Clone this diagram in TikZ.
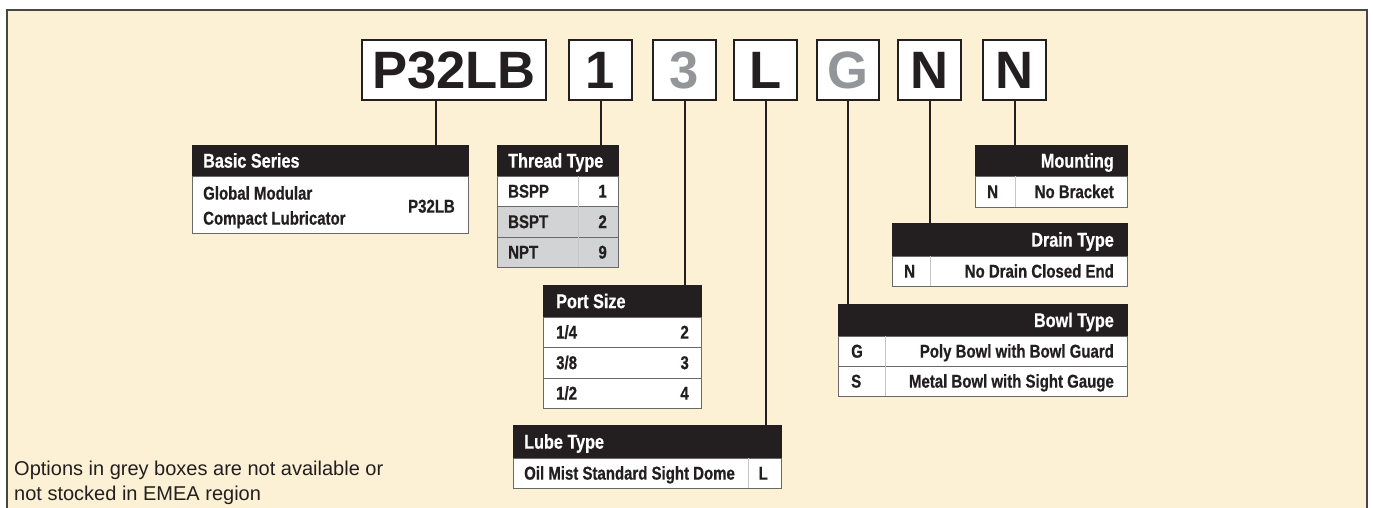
\documentclass[tikz,border=0pt]{standalone}
\usepackage{fontspec}
\setmainfont{Liberation Sans}
\newfontfamily\condfont[FakeStretch=0.81,FakeBold=0.6]{Liberation Sans}
\definecolor{bg}{RGB}{253,241,213}
\definecolor{ink}{RGB}{35,31,32}
\definecolor{greytxt}{RGB}{147,149,152}
\definecolor{greyfill}{RGB}{209,211,212}
\definecolor{rulecol}{RGB}{105,105,108}
\definecolor{framecol}{RGB}{70,70,70}
\begin{document}
\begin{tikzpicture}[x=1pt,y=-1pt,
  codebox/.style={draw=ink, line width=2pt, fill=white, minimum height=60pt, inner sep=0pt,
    font=\bfseries\fontsize{52.6}{60}\selectfont, text height=37.7pt, text depth=0pt},
  hdrbox/.style={anchor=north west, fill=ink, draw=ink, line width=0.6pt, inner sep=0pt},
  rowbox/.style={anchor=north west, fill=white, draw=rulecol, line width=0.8pt, inner sep=0pt},
  greyrow/.style={rowbox, fill=greyfill},
  htxt/.style={font=\condfont\bfseries\fontsize{20}{22}\selectfont, text=white, inner sep=0pt, text height=14.3pt, text depth=0pt},
  btxt/.style={font=\condfont\bfseries\fontsize{18.5}{20}\selectfont, text=ink, inner sep=0pt, text height=13.2pt, text depth=0pt},
  notetxt/.style={font=\fontsize{20}{25}\selectfont, text=ink, inner sep=0pt, text height=14.3pt, text depth=0pt, anchor=west},
  conn/.style={draw=ink, line width=2pt},
  divider/.style={draw=black!22, line width=0.5pt}
]
\useasboundingbox (0,0) rectangle (1373,507);
\clip (0,0) rectangle (1373,507);
\fill[white] (0,0) rectangle (1373,507);
\draw[draw=framecol, line width=1.2pt, fill=bg] (7,10) rectangle (1367,540);

% code boxes
\node[codebox, minimum width=184pt, text=ink] (cP) at (454,70) {P32LB};
\node[codebox, minimum width=63pt, text=ink] (c1) at (600.5,70) {1};
\node[codebox, minimum width=63pt, text=greytxt] (c3) at (684.5,70) {3};
\node[codebox, minimum width=63pt, text=ink] (cL) at (765.5,70) {L};
\node[codebox, minimum width=62pt, text=greytxt] (cG) at (848,70) {G};
\node[codebox, minimum width=63pt, text=ink] (cN1) at (929.5,70) {N};
\node[codebox, minimum width=63pt, text=ink] (cN2) at (1014.5,70) {N};

% Basic Series
\node[hdrbox, minimum width=276pt, minimum height=31pt] (bsH) at (192,145) {};
\node[rowbox, minimum width=276pt, minimum height=57pt] (bsR) at (192,176) {};
\node[htxt, anchor=west] (bsT) at (203,160.5) {Basic Series};
\node[btxt, anchor=west] (bs1) at (203,193) {Global Modular};
\node[btxt, anchor=west] (bs2) at (203,218) {Compact Lubricator};
\node[btxt, anchor=east] (bs3) at (455,206) {P32LB};

% Thread Type
\node[hdrbox, minimum width=121pt, minimum height=31pt] (ttH) at (497,145) {};
\node[rowbox, minimum width=121pt, minimum height=30pt] (tt1) at (497,176) {};
\node[greyrow, minimum width=121pt, minimum height=31pt] (tt2) at (497,206) {};
\node[greyrow, minimum width=121pt, minimum height=30pt] (tt3) at (497,237) {};
\draw[divider] (578,176) -- (578,267);
\node[htxt, anchor=west] (ttT) at (508,160.5) {Thread Type};
\node[btxt, anchor=west] (tta) at (508,191) {BSPP};
\node[btxt, anchor=east] (ttb) at (607,191) {1};
\node[btxt, anchor=west] (ttc) at (508,221.5) {BSPT};
\node[btxt, anchor=east] (ttd) at (607,221.5) {2};
\node[btxt, anchor=west] (tte) at (508,252) {NPT};
\node[btxt, anchor=east] (ttf) at (607,252) {9};

% Port Size
\node[hdrbox, minimum width=158pt, minimum height=32pt] (psH) at (543,285) {};
\node[rowbox, minimum width=158pt, minimum height=30pt] (ps1) at (543,317) {};
\node[rowbox, minimum width=158pt, minimum height=31pt] (ps2) at (543,347) {};
\node[rowbox, minimum width=158pt, minimum height=30pt] (ps3) at (543,378) {};
\node[htxt, anchor=west] (psT) at (556,301) {Port Size};
\node[btxt, anchor=west] (psa) at (556,332) {1/4};
\node[btxt, anchor=east] (psb) at (689,332) {2};
\node[btxt, anchor=west] (psc) at (556,362.5) {3/8};
\node[btxt, anchor=east] (psd) at (689,362.5) {3};
\node[btxt, anchor=west] (pse) at (556,393) {1/2};
\node[btxt, anchor=east] (psf) at (689,393) {4};

% Lube Type
\node[hdrbox, minimum width=268pt, minimum height=33pt] (ltH) at (513,425) {};
\node[rowbox, minimum width=268pt, minimum height=30pt] (lt1) at (513,458) {};
\draw[divider] (748,458) -- (748,488);
\node[htxt, anchor=west] (ltT) at (524,441.5) {Lube Type};
\node[btxt, anchor=west] (lta) at (524,473) {Oil Mist Standard Sight Dome};
\node[btxt, anchor=east] (ltb) at (768,473) {L};

% Bowl Type
\node[hdrbox, minimum width=289pt, minimum height=32pt] (btH) at (838,304) {};
\node[rowbox, minimum width=289pt, minimum height=30pt] (bt1) at (838,336) {};
\node[rowbox, minimum width=289pt, minimum height=30pt] (bt2) at (838,366) {};
\draw[divider] (885,336) -- (885,396);
\node[htxt, anchor=east] (btT) at (1114,320) {Bowl Type};
\node[btxt, anchor=west] (bta) at (851,351) {G};
\node[btxt, anchor=east] (btb) at (1114,351) {Poly Bowl with Bowl Guard};
\node[btxt, anchor=west] (btc) at (851,381) {S};
\node[btxt, anchor=east] (btd) at (1114,381) {Metal Bowl with Sight Gauge};

% Drain Type
\node[hdrbox, minimum width=235pt, minimum height=33pt] (dtH) at (892,223) {};
\node[rowbox, minimum width=235pt, minimum height=30pt] (dt1) at (892,256) {};
\draw[divider] (930,256) -- (930,286);
\node[htxt, anchor=east] (dtT) at (1114,239.5) {Drain Type};
\node[btxt, anchor=west] (dta) at (904,271) {N};
\node[btxt, anchor=east] (dtb) at (1114,271) {No Drain Closed End};

% Mounting
\node[hdrbox, minimum width=152pt, minimum height=31pt] (mtH) at (975,145) {};
\node[rowbox, minimum width=152pt, minimum height=31pt] (mt1) at (975,176) {};
\draw[divider] (1015,176) -- (1015,207);
\node[htxt, anchor=east] (mtT) at (1114,160.5) {Mounting};
\node[btxt, anchor=west] (mta) at (987,191.5) {N};
\node[btxt, anchor=east] (mtb) at (1114,191.5) {No Bracket};

% connectors
\draw[conn] ([xshift=-18pt]cP.south) -- ([xshift=-18pt]cP.south |- bsH.north);
\draw[conn] (c1.south) -- (c1.south |- ttH.north);
\draw[conn] (c3.south) -- (c3.south |- psH.north);
\draw[conn] (cL.south) -- (cL.south |- ltH.north);
\draw[conn] (cG.south) -- (cG.south |- btH.north);
\draw[conn] (cN1.south) -- (cN1.south |- dtH.north);
\draw[conn] (cN2.south) -- (cN2.south |- mtH.north);

% note
\node[notetxt] (note1) at (14,468) {Options in grey boxes are not available or};
\node[notetxt] (note2) at (14,493) {not stocked in EMEA region};
\end{tikzpicture}
\end{document}
